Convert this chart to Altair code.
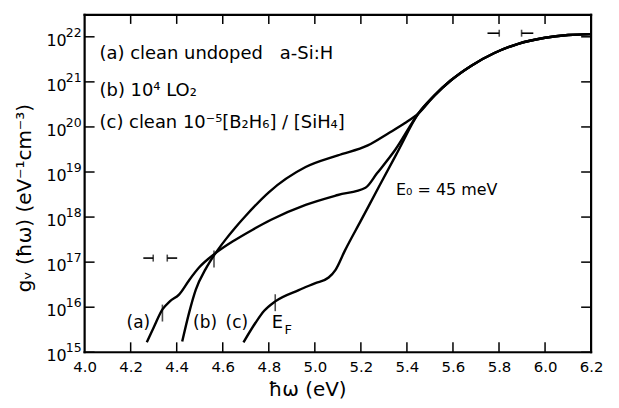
import altair as alt
import pandas as pd

# ---- data (x in eV, e = log10 of g_v) ----
a_x = [4.27, 4.30, 4.338, 4.37, 4.41, 4.454, 4.497, 4.569, 4.65, 4.73, 4.81, 4.96, 5.10, 5.22, 5.27, 5.35, 5.45]
a_e = [15.22, 15.55, 15.95, 16.13, 16.28, 16.60, 16.88, 17.20, 17.48, 17.72, 17.94, 18.27, 18.49, 18.65, 18.97, 19.50, 20.30]

b_x = [4.424, 4.454, 4.483, 4.526, 4.562, 4.612, 4.655, 4.70, 4.80, 4.96, 5.10, 5.23, 5.32, 5.39, 5.45]
b_e = [15.24, 15.88, 16.39, 16.85, 17.15, 17.50, 17.77, 18.03, 18.55, 19.11, 19.37, 19.59, 19.86, 20.08, 20.30]

c_x = [4.69, 4.743, 4.78, 4.828, 4.93, 5.00, 5.06, 5.09, 5.13, 5.20, 5.28, 5.36, 5.45]
c_e = [15.22, 15.66, 15.92, 16.13, 16.38, 16.53, 16.66, 16.83, 17.25, 17.92, 18.69, 19.45, 20.30]

shared_x = [5.52, 5.59, 5.68, 5.78, 5.88, 6.00, 6.10, 6.20]
shared_e = [20.70, 21.03, 21.36, 21.64, 21.84, 21.98, 22.04, 22.06]

# E_F marks on the curves
mark_x = [4.338, 4.562, 4.828]
mark_e = [15.87, 17.07, 16.10]

# resolution brackets
brk_x1 = [4.255, 4.359, 5.750, 5.898]
brk_x2 = [4.298, 4.402, 5.801, 5.949]
brk_e = [17.09, 17.09, 22.08, 22.08]
brk_bar_x = [4.298, 4.359, 5.801, 5.898]

x_ticks = [4.0, 4.2, 4.4, 4.6, 4.8, 5.0, 5.2, 5.4, 5.6, 5.8, 6.0, 6.2]
y_exps = [15, 16, 17, 18, 19, 20, 21, 22]

# ---- tables ----
rows = []
for name, xs_, es_ in (("a", a_x, a_e), ("b", b_x, b_e), ("c", c_x, c_e)):
    for x, e in zip(xs_ + shared_x, es_ + shared_e):
        rows.append({"series": name, "x": x, "g": 10 ** e})
curves = pd.DataFrame(rows)
marks = pd.DataFrame({"x": mark_x, "g": [10 ** e for e in mark_e]})
brk = pd.DataFrame({"x1": brk_x1, "x2": brk_x2, "g": [10 ** e for e in brk_e]})
bars = pd.DataFrame({"x": brk_bar_x, "g": [10 ** e for e in brk_e]})
xt = pd.DataFrame({"x": x_ticks[1:-1]})
yt = pd.DataFrame({"g": [10.0 ** n for n in y_exps], "base": ["10"] * len(y_exps),
                   "exp": [str(n) for n in y_exps]})

W, H = 509, 339
FONT = "DejaVu Sans"

xs = alt.Scale(domain=[4.0, 6.2], nice=False, zero=False)
ys = alt.Scale(type="log", domain=[1e15, 10 ** 22.485], nice=False)
xaxis = alt.Axis(values=x_ticks, format=".1f", ticks=False, domain=False, grid=False,
                 labelFont=FONT, labelFontSize=15, labelColor="black", labelPadding=7,
                 title=None, labelFlush=False)


def X(f):
    return alt.X(f, type="quantitative", scale=xs, axis=xaxis)


def Y(f):
    return alt.Y(f, type="quantitative", scale=ys, axis=None)


lines = alt.Chart(curves).mark_line(color="black", strokeWidth=2.4, interpolate="monotone").encode(
    x=X("x"), y=Y("g"), detail="series:N")

curve_marks = alt.Chart(marks).mark_tick(orient="vertical", size=17, thickness=1.6, color="black").encode(
    x=X("x"), y=Y("g"))

brk_h = alt.Chart(brk).mark_rule(color="black", strokeWidth=1.6).encode(
    x=X("x1"), x2="x2", y=Y("g"))
brk_v = alt.Chart(bars).mark_tick(orient="vertical", size=7, thickness=1.6, color="black").encode(
    x=X("x"), y=Y("g"))

tick_b = alt.Chart(xt).mark_rule(color="black", strokeWidth=1.5).encode(
    x=X("x"), y=alt.value(H), y2=alt.value(H - 10))
tick_t = alt.Chart(xt).mark_rule(color="black", strokeWidth=1.5).encode(
    x=X("x"), y=alt.value(0), y2=alt.value(9))
tick_l = alt.Chart(yt).mark_rule(color="black", strokeWidth=1.5).encode(
    y=Y("g"), x=alt.value(0), x2=alt.value(10))
tick_r = alt.Chart(yt).mark_rule(color="black", strokeWidth=1.5).encode(
    y=Y("g"), x=alt.value(W), x2=alt.value(W - 10))

dummy = pd.DataFrame({"k": [0]})
frame = [
    alt.Chart(dummy).mark_rule(color="black", strokeWidth=2.2, strokeCap="square").encode(
        x=alt.value(0), x2=alt.value(W), y=alt.value(0)),
    alt.Chart(dummy).mark_rule(color="black", strokeWidth=2.2, strokeCap="square").encode(
        x=alt.value(0), x2=alt.value(W), y=alt.value(H)),
    alt.Chart(dummy).mark_rule(color="black", strokeWidth=2.2, strokeCap="square").encode(
        x=alt.value(0), y=alt.value(0), y2=alt.value(H)),
    alt.Chart(dummy).mark_rule(color="black", strokeWidth=2.2, strokeCap="square").encode(
        x=alt.value(W), y=alt.value(0), y2=alt.value(H)),
]

ylab_base = alt.Chart(yt).mark_text(align="right", baseline="middle", dy=4, font=FONT,
                                    fontSize=16, color="black").encode(
    y=Y("g"), x=alt.value(-18), text="base:N")
ylab_exp = alt.Chart(yt).mark_text(align="right", baseline="middle", dy=-4, font=FONT,
                                   fontSize=12.5, color="black").encode(
    y=Y("g"), x=alt.value(-3), text="exp:N")


def label(text, x, y, size=15, align="left", angle=0, font=FONT):
    kw = dict(align=align, baseline="middle", fontSize=size, font=font, color="black")
    if angle:
        kw["angle"] = angle
    return alt.Chart(dummy).mark_text(**kw).encode(
        x=alt.value(x), y=alt.value(y), text=alt.value(text))


NB = "\u00a0"
texts = [
    label("(a) clean undoped" + NB + NB + NB + "a-Si:H", 15, 39, size=18),
    label("(b) 10\u2074 LO\u2082", 15, 76, size=18),
    label("(c) clean 10\u207b\u2075[B\u2082H\u2086] / [SiH\u2084]", 15, 109, size=18),
    label("E\u2080 = 45 meV", 313, 176, size=16),
    label("E", 188, 310, size=18),
    label("F", 201, 317, size=13),
    label("(a)", 54, 310, size=17, align="center"),
    label("(b)", 121, 310, size=17, align="center"),
    label("(c)", 153, 310, size=17, align="center"),
    label("\u0127\u03c9 (eV)", 224, 377, size=20, align="center"),
    label("g\u1d65 (\u0127\u03c9) (eV\u207b\u00b9cm\u207b\u00b3)", -60, 184, size=20, align="center", angle=270),
]

chart = alt.layer(
    lines, curve_marks, brk_h, brk_v, tick_b, tick_t, tick_l, tick_r, *frame,
    ylab_base, ylab_exp, *texts
).properties(
    width=W, height=H,
    padding={"left": 77, "top": 6, "right": 20, "bottom": 52},
    autosize=alt.AutoSizeParams(type="none"),
).configure_view(stroke=None).configure(background="white")

chart.save("out.html", embed_options={"renderer": "svg", "actions": False})
